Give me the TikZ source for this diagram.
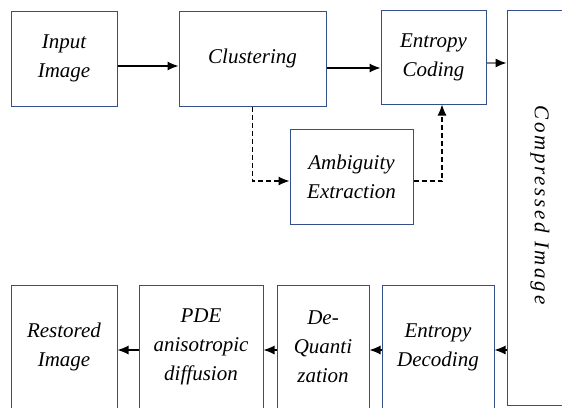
\documentclass[tikz,border=0pt]{standalone}
\usepackage{fontspec}
\setmainfont{Liberation Serif}
\usepackage{tikz}
\usetikzlibrary{arrows.meta}
\definecolor{boxblue}{RGB}{50,80,135}
\tikzset{
  blk/.style={draw=boxblue, line width=1pt, align=center, font=\fontsize{21}{29}\selectfont\itshape, inner sep=2pt},
  flow/.style={line width=1.1pt, -{Latex[length=11pt,width=9pt]}},
  side/.style={flow, dashed, dash pattern=on 5pt off 3pt}
}
\begin{document}
\begin{tikzpicture}[x=1pt,y=-1pt]
\useasboundingbox (0,0) rectangle (562,407);
\clip (0,0) rectangle (562,407);
% top row
\node[blk, minimum width=106pt, minimum height=95pt] (inp) at (64,58.5) {Input\\Image};
\node[blk, minimum width=147pt, minimum height=95pt] (clus) at (252.5,58.5) {Clustering};
\node[blk, minimum width=105pt, minimum height=94pt] (entc) at (433.5,57) {Entropy\\Coding};
\node[blk, minimum width=123pt, minimum height=95pt] (amb) at (351.5,176.5) {Ambiguity\\Extraction};
\node[blk, minimum width=65pt, minimum height=395pt] (comp) at (539.5,207.5) {};
\node[font=\fontsize{21}{29}\selectfont\itshape\addfontfeatures{LetterSpace=13}, rotate=-90] (comptxt) at (540,205) {Compressed Image};
% bottom row
\node[blk, minimum width=106pt, minimum height=124pt] (rest) at (64,347) {Restored\\Image};
\node[blk, minimum width=124pt, minimum height=124pt] (pde) at (201,347) {PDE\\anisotropic\\diffusion};
\node[blk, minimum width=92pt, minimum height=124pt] (deq) at (323,347) {De-\\Quanti\\zation};
\node[blk, minimum width=112pt, minimum height=124pt] (entd) at (438,347) {Entropy\\Decoding};
% connectors
\draw[flow] ([yshift=-7.5pt]inp.east) -- ([yshift=-7.5pt]clus.west);
\draw[flow] ([yshift=-9.5pt]clus.east) -- ([yshift=-11pt]entc.west);
\draw[line width=1.3pt, draw=gray, -{Latex[length=11pt,width=9pt,black]}] ([yshift=-6pt]entc.east) -- ([yshift=-6pt]entc.east -| comp.west);
\draw[side] (clus.south) |- ([yshift=-4.5pt]amb.west);
\draw[side] ([yshift=-4.5pt]amb.east) -| ([xshift=8.5pt]entc.south);
\draw[flow] ([yshift=-3pt]comp.west |- entd.east) -- ([yshift=-3pt]entd.east);
\draw[flow] ([yshift=-3pt]entd.west) -- ([yshift=-3pt]deq.east);
\draw[flow] ([yshift=-3pt]deq.west) -- ([yshift=-3pt]pde.east);
\draw[flow] ([yshift=-3pt]pde.west) -- ([yshift=-3pt]rest.east);
\end{tikzpicture}
\end{document}
